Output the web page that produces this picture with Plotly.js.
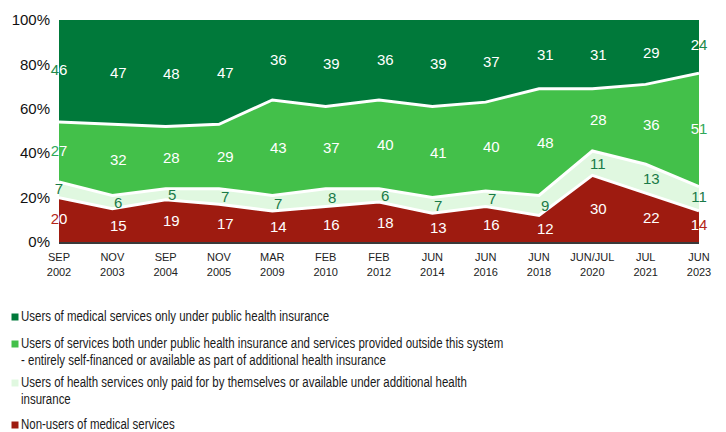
<!DOCTYPE html>
<html>
<head>
<meta charset="utf-8">
<script src="https://cdn.plot.ly/plotly-3.0.1.min.js"></script>
<style>html,body{margin:0;padding:0;background:#fff;}#chart{width:726px;height:432px;}</style>
</head>
<body>
<div id="chart"></div>
<script>
// ---- data ----
var categories = ["SEP<br>2002","NOV<br>2003","SEP<br>2004","NOV<br>2005","MAR<br>2009","FEB<br>2010","FEB<br>2012","JUN<br>2014","JUN<br>2016","JUN<br>2018","JUN/JUL<br>2020","JUL<br>2021","JUN<br>2023"];
var nonUsers   = [20,15,19,17,14,16,18,13,16,12,30,22,14];
var selfPaid   = [7,6,5,7,7,8,6,7,7,9,11,13,11];
var both       = [27,32,28,29,43,37,40,41,40,48,28,36,51];
var publicOnly = [46,47,48,47,36,39,36,39,37,31,31,29,24];
var yTickVals  = [0,20,40,60,80,100];
var yTickText  = ["0%","20%","40%","60%","80%","100%"];
var seriesNames = [
  "Users of medical services only under public health insurance",
  "Users of services both under public health insurance and services provided outside this system<br>- entirely self-financed or available as part of additional health insurance",
  "Users of health services only paid for by themselves or available under additional health<br>insurance",
  "Non-users of medical services"
];

// ---- styles ----
var colDark = "#00793A", colMid = "#43C04A", colLight = "#E0F8E0", colRed = "#9E1B10";
var FONT = "Liberation Sans, Arial, sans-serif";
var stack = [
  {y: nonUsers,   name: seriesNames[3], fill: colRed,   lw: 3, labelCol: "#ffffff", edgeCol: "#B3261A"},
  {y: selfPaid,   name: seriesNames[2], fill: colLight, lw: 3, labelCol: "#1A7A48", edgeCol: "#1A7A48"},
  {y: both,       name: seriesNames[1], fill: colMid,   lw: 3, labelCol: "#ffffff", edgeCol: "#2EA85A"},
  {y: publicOnly, name: seriesNames[0], fill: colDark,  lw: 0, labelCol: "#ffffff", edgeCol: "#1E8A4C"}
];

var traces = stack.map(function(s){
  return {
    type: "scatter", mode: "lines", x: categories, y: s.y, name: s.name,
    stackgroup: "one", fillcolor: s.fill,
    line: {color: "#ffffff", width: s.lw, shape: "linear"},
    hoverinfo: "skip", showlegend: false
  };
});

// data labels at band centres
var annotations = [];
var base = categories.map(function(){return 0;});
var last = categories.length - 1;
var edgeX = [], edgeY = [], edgeText = [], edgeCol = [], edgeWhite = [];
stack.forEach(function(s){
  s.y.forEach(function(v, i){
    var mid = base[i] + v/2;
    base[i] += v;
    if (i === 0 || i === last) {
      edgeX.push(categories[i]); edgeY.push(mid); edgeText.push(String(v));
      edgeCol.push(s.edgeCol);
      edgeWhite.push(s.labelCol === "#ffffff" ? String(v) : "");
    } else {
      annotations.push({
        x: categories[i], y: mid, xref: "x", yref: "y", text: String(v), showarrow: false,
        xanchor: "center", yanchor: "middle", xshift: 6,
        font: {family: FONT, size: 15, color: s.labelCol}
      });
    }
  });
});
// edge labels: coloured outside the plot area, white inside it
traces.push({type: "scatter", mode: "text", x: edgeX, y: edgeY, text: edgeText,
  textposition: "middle center", cliponaxis: false,
  textfont: {family: FONT, size: 15, color: edgeCol}, hoverinfo: "skip", showlegend: false});
traces.push({type: "scatter", mode: "text", x: edgeX, y: edgeY, text: edgeWhite,
  textposition: "middle center", cliponaxis: true,
  textfont: {family: FONT, size: 15, color: "#ffffff"}, hoverinfo: "skip", showlegend: false});

// custom legend (paper coordinates)
var plotL = 59, plotR = 699, plotT = 20, plotB = 242;
function px2x(px){ return (px - plotL) / (plotR - plotL); }
function px2y(py){ return (plotB - py) / (plotB - plotT); }
var legendItems = [
  {name: seriesNames[0], color: colDark,  lines: [316]},
  {name: seriesNames[1], color: colMid,   lines: [343, 360]},
  {name: seriesNames[2], color: colLight, lines: [382, 399]},
  {name: seriesNames[3], color: colRed,   lines: [424]}
];
var shapes = [];
var legendStart = annotations.length;
legendItems.forEach(function(it){
  var parts = it.name.split("<br>");
  parts.forEach(function(t, k){
    annotations.push({
      xref: "paper", yref: "paper", x: px2x(19), y: px2y(it.lines[k]), text: t, showarrow: false,
      xanchor: "left", yanchor: "middle", align: "left",
      font: {family: FONT, size: 14, color: "#1a1a1a"}
    });
  });
  var c = it.lines[0] + 1;
  shapes.push({type: "rect", xref: "paper", yref: "paper",
    x0: px2x(11.5), x1: px2x(18.5), y0: px2y(c + 3.5), y1: px2y(c - 3.5),
    fillcolor: it.color, line: {width: 0}});
});

var layout = {
  width: 726, height: 432,
  margin: {l: plotL, r: 726 - plotR, t: plotT, b: 432 - plotB},
  paper_bgcolor: "#ffffff", plot_bgcolor: "#ffffff",
  showlegend: false,
  xaxis: {
    type: "category", range: [0, last],
    showgrid: false, zeroline: false, showline: true, linecolor: "#3a3a3a", linewidth: 2,
    ticks: "outside", ticklen: 4, tickcolor: "rgba(0,0,0,0)",
    tickfont: {family: FONT, size: 11, color: "#222"},
    tickangle: 0, fixedrange: true
  },
  yaxis: {
    range: [0, 100], tickmode: "array", tickvals: yTickVals, ticktext: yTickText,
    showgrid: false, zeroline: false, showline: false,
    ticks: "outside", ticklen: 5, tickcolor: "rgba(0,0,0,0)",
    tickfont: {family: FONT, size: 15, color: "#111"},
    fixedrange: true
  },
  annotations: annotations,
  shapes: shapes
};

Plotly.newPlot("chart", traces, layout, {displayModeBar: false, staticPlot: true}).then(function(gd){
  // the reference legend uses a narrow face; compress the legend text horizontally
  for (var k = legendStart; k < annotations.length; k++) {
    var t = gd.querySelector('g.annotation[data-index="' + k + '"] text.annotation-text');
    if (!t) continue;
    var bx = t.getBBox().x;
    var prev = t.getAttribute("transform") || "";
    t.setAttribute("transform", "translate(" + bx + ",0) scale(0.82,1) translate(" + (-bx) + ",0) " + prev);
  }
});
</script>
</body>
</html>
